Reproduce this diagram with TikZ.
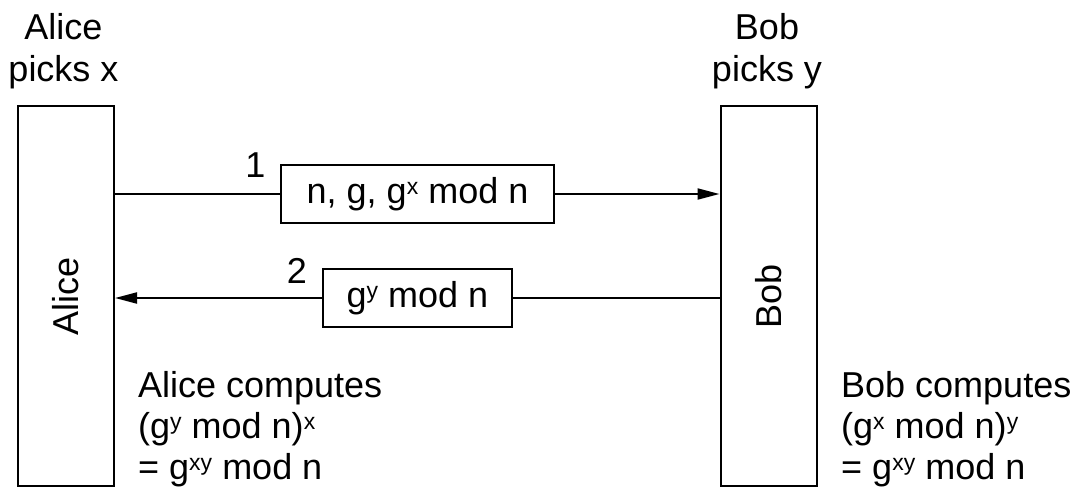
\documentclass[tikz,border=0pt]{standalone}
\usepackage{fontspec}
\setmainfont{Liberation Sans}
\usetikzlibrary{arrows.meta}
\newcommand\upx[1]{\raisebox{9pt}{\fontsize{23pt}{23pt}\selectfont #1}}
\begin{document}
\begin{tikzpicture}[x=1pt,y=-1pt,
  every node/.style={font=\fontsize{36pt}{42pt}\selectfont, inner sep=0pt},
  party/.style={draw, line width=2pt, minimum width=96pt, minimum height=380pt},
  msgbox/.style={draw, line width=2pt, minimum height=58pt},
  wire/.style={line width=2pt},
  arr/.style={line width=2pt, -{Triangle[length=22pt,width=11pt]}},
  txt/.style={anchor=base west},
  ctxt/.style={anchor=base}]
\useasboundingbox (0,0) rectangle (1078,491);
\node[party] (alice) at (66,296) {\rotatebox{90}{Alice}};
\node[party] (bob) at (768.5,296) {\rotatebox{90}{Bob}};
\node[ctxt] (an) at (63.5,39) {Alice};
\node[ctxt] (ap) at (63.5,81) {picks x};
\node[ctxt] (bn) at (767,39) {Bob};
\node[ctxt] (bp) at (767,81) {picks y};
\node[msgbox, minimum width=273pt] (m1) at (417.5,194) {n, g, g\upx{x} mod n};
\node[msgbox, minimum width=189pt] (m2) at (417.5,298) {g\upx{y} mod n};
\node[ctxt] (l1) at (255.5,177) {1};
\node[ctxt] (l2) at (297,283) {2};
\draw[wire] (alice.east |- m1.west) -- (m1.west);
\draw[arr] (m1.east) -- (bob.west |- m1.east);
\draw[wire] (bob.west |- m2.east) -- (m2.east);
\draw[arr] (m2.west) -- (alice.east |- m2.west);
\node[txt] (ac1) at (138,397) {Alice computes};
\node[txt] (ac2) at (138,438) {(g\upx{y} mod n)\upx{x}};
\node[txt] (ac3) at (138,479) {= g\upx{xy} mod n};
\node[txt] (bc1) at (841,397) {Bob computes};
\node[txt] (bc2) at (841,438) {(g\upx{x} mod n)\upx{y}};
\node[txt] (bc3) at (841,479) {= g\upx{xy} mod n};
\end{tikzpicture}
\end{document}
